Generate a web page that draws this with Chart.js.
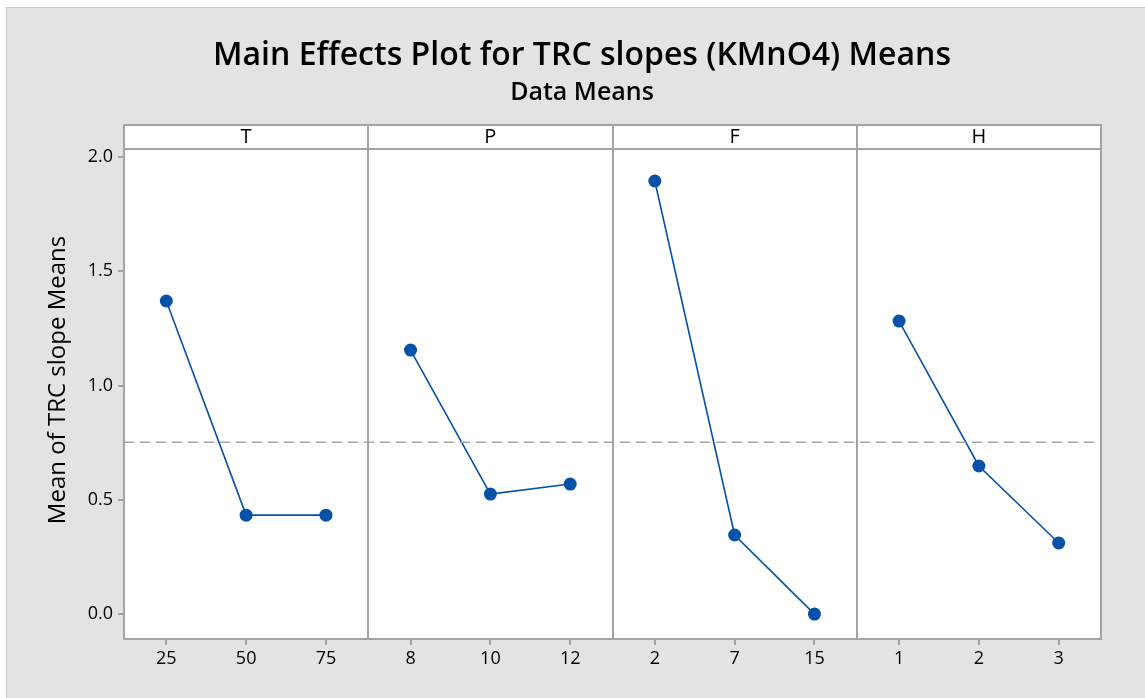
<!DOCTYPE html>
<html>
<head>
<meta charset="utf-8">
<script src="https://cdn.jsdelivr.net/npm/chart.js@4.4.1/dist/chart.umd.min.js"></script>
<style>
  html, body { margin: 0; padding: 0; background: #fff; }
  #wrap { position: absolute; left: 0; top: 0; width: 1145px; height: 698px; }
</style>
</head>
<body>
<div id="wrap"><canvas id="chart" width="1145" height="698"></canvas></div>
<script>
// factors and their levels
const factors = ['T', 'P', 'F', 'H'];
const levelLabels = [['25', '50', '75'], ['8', '10', '12'], ['2', '7', '15'], ['1', '2', '3']];

// means
const tMeans = [1.37, 0.433, 0.433];
const pMeans = [1.155, 0.525, 0.569];
const fMeans = [1.895, 0.346, 0.0];
const hMeans = [1.282, 0.648, 0.311];
const grandMean = 0.752;

const yTicks = [0, 0.5, 1.0, 1.5, 2.0];
const yTitle = 'Mean of TRC slope Means';

const allMeans = [tMeans, pMeans, fMeans, hMeans];
const panelW = 3.06;   // x units per panel
const edge = 0.53;     // gap before first level
const xMin = -edge;
const xMax = factors.length * panelW - edge;

const blue = '#0652a8';
const frameGray = '#a3a3a3';
const font = "'Open Sans', sans-serif";

const datasets = allMeans.map((m, k) => ({
  data: m.map((v, i) => ({ x: k * panelW + i, y: v })),
  borderColor: blue,
  backgroundColor: blue,
  borderWidth: 1.6,
  pointRadius: 6.5,
  pointHoverRadius: 6.5,
  pointBorderWidth: 0,
  tension: 0
}));
datasets.unshift({
  data: [{ x: xMin, y: grandMean }, { x: xMax, y: grandMean }],
  borderColor: '#a6a6a6',
  borderWidth: 1.6,
  borderDash: [10, 6],
  pointRadius: 0
});

const xTickPos = [];
const xTickText = [];
levelLabels.forEach((lv, k) => lv.forEach((t, i) => {
  xTickPos.push(k * panelW + i);
  xTickText.push(t);
}));

const panels = {
  id: 'panels',
  beforeDraw(chart) {
    const c = chart.ctx;
    c.save();
    c.fillStyle = '#e3e3e3';
    c.fillRect(6, 7, chart.width - 6, chart.height - 7);
    c.strokeStyle = '#c8c8c8';
    c.lineWidth = 1;
    c.beginPath();
    c.moveTo(6.5, chart.height);
    c.lineTo(6.5, 7.5);
    c.lineTo(chart.width, 7.5);
    c.stroke();
    const a = chart.chartArea;
    c.fillStyle = '#fff';
    c.fillRect(a.left, a.top - 24, a.right - a.left, a.bottom - a.top + 24);
    c.restore();
  },
  afterDatasetsDraw(chart) {
    const c = chart.ctx;
    const a = chart.chartArea;
    const xs = chart.scales.x;
    const stripTop = a.top - 24;
    c.save();
    c.strokeStyle = frameGray;
    c.lineWidth = 2;
    c.strokeRect(a.left, stripTop, a.right - a.left, a.bottom - stripTop);
    c.beginPath();
    c.moveTo(a.left, a.top);
    c.lineTo(a.right, a.top);
    for (let k = 1; k < factors.length; k++) {
      const px = Math.round(xs.getPixelForValue(k * panelW - edge));
      c.moveTo(px, stripTop);
      c.lineTo(px, a.bottom);
    }
    c.stroke();
    c.fillStyle = '#000';
    c.font = '20px ' + font;
    c.textAlign = 'center';
    c.textBaseline = 'middle';
    factors.forEach((f, k) => {
      const l = xs.getPixelForValue(k * panelW - edge);
      const r = xs.getPixelForValue((k + 1) * panelW - edge);
      c.fillText(f, (l + r) / 2, stripTop + 12);
    });
    // y axis title
    c.translate(58, 380);
    c.rotate(-Math.PI / 2);
    c.font = '24px ' + font;
    c.fillText(yTitle, 0, 0);
    c.restore();
  }
};

new Chart(document.getElementById('chart'), {
  type: 'line',
  data: { datasets: datasets },
  options: {
    responsive: false,
    animation: false,
    devicePixelRatio: 1,
    layout: { padding: { top: 7, left: 63, right: 44, bottom: 0 } },
    plugins: {
      legend: { display: false },
      tooltip: { enabled: false },
      title: {
        display: true,
        text: 'Main Effects Plot for TRC slopes (KMnO4) Means',
        color: '#000',
        font: { family: font, size: 32, weight: '600', lineHeight: 1.2 },
        padding: { top: 30, bottom: 2 }
      },
      subtitle: {
        display: true,
        text: 'Data Means',
        color: '#000',
        font: { family: font, size: 25, weight: '600', lineHeight: 1.2 },
        padding: { top: 0, bottom: 41.6 }
      }
    },
    scales: {
      x: {
        type: 'linear',
        min: xMin,
        max: xMax,
        afterBuildTicks: s => { s.ticks = xTickPos.map(v => ({ value: v })); },
        afterFit: s => { s.height = 59; },
        ticks: {
          autoSkip: false,
          maxRotation: 0,
          padding: 3,
          color: '#000',
          font: { family: font, size: 18 },
          callback: (v, i) => xTickText[i]
        },
        grid: { drawOnChartArea: false, drawTicks: true, tickLength: 6, color: frameGray, lineWidth: 2 },
        border: { display: false }
      },
      y: {
        min: -0.109,
        max: 2.035,
        afterBuildTicks: s => { s.ticks = yTicks.map(v => ({ value: v })); },
        afterFit: s => { s.width = 61; },
        ticks: {
          padding: 5,
          color: '#000',
          font: { family: font, size: 18 },
          callback: v => v.toFixed(1)
        },
        grid: { drawOnChartArea: false, drawTicks: true, tickLength: 6, color: frameGray, lineWidth: 2 },
        border: { display: false }
      }
    }
  },
  plugins: [panels]
});
</script>
</body>
</html>
